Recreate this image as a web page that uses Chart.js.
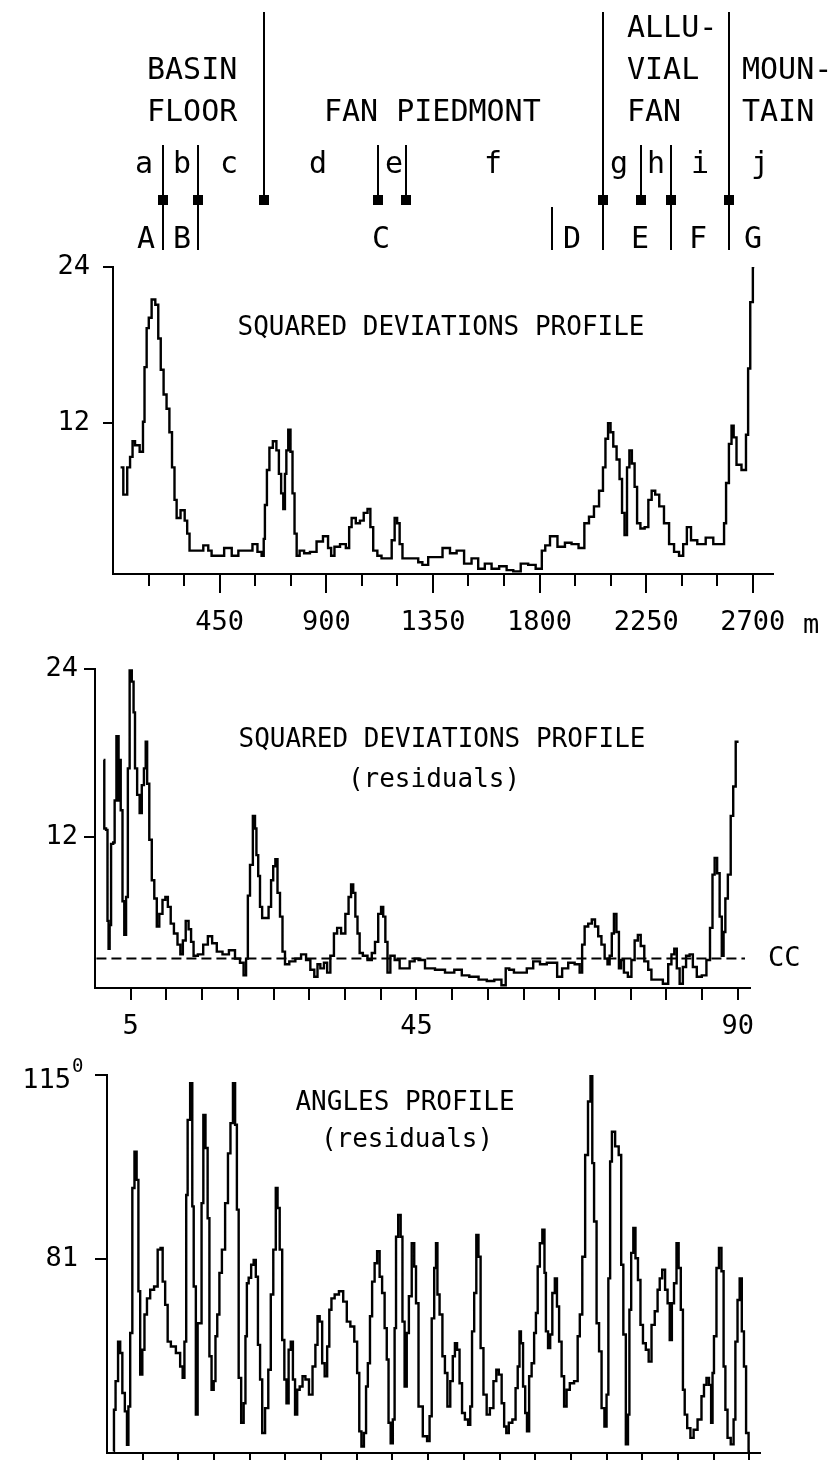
<!DOCTYPE html>
<html>
<head>
<meta charset="utf-8">
<script src="https://cdn.jsdelivr.net/npm/chart.js@4.4.1/dist/chart.umd.min.js"></script>
<style>
  html, body { margin: 0; padding: 0; background: #fff; }
  body { width: 837px; height: 1460px; position: relative; overflow: hidden; }
  canvas { position: absolute; left: 0; }
</style>
</head>
<body>
<canvas id="sqdev" width="837" height="650" style="top:0"></canvas>
<canvas id="sqres" width="837" height="420" style="top:630px"></canvas>
<canvas id="angres" width="837" height="470" style="top:1030px"></canvas>
<script>
const FONT = "'DejaVu Sans Mono', 'Liberation Mono', monospace";

// --- profile 1: squared deviations along the transect (metres) ---
const distM = [32, 55, 65, 79, 86, 100, 125, 128, 138, 146, 156, 170, 187, 195, 208, 219, 233, 243, 255, 264,
  273, 297, 308, 318, 328, 367, 395, 409, 423, 451, 487, 515, 543, 578, 599, 620, 634, 638, 644, 655,
  665, 684, 695, 705, 714, 723, 728, 735, 744, 754, 761, 771, 779, 796, 817, 845, 873, 899, 916, 925,
  944, 972, 993, 1000, 1014, 1035, 1049, 1067, 1081, 1091, 1105, 1126, 1140, 1169, 1183, 1194, 1204, 1215, 1228, 1281,
  1295, 1316, 1344, 1373, 1408, 1436, 1464, 1499, 1527, 1555, 1583, 1612, 1647, 1675, 1703, 1738, 1766, 1801, 1818, 1830,
  1858, 1893, 1921, 1949, 1980, 1998, 2019, 2040, 2062, 2073, 2083, 2095, 2104, 2118, 2132, 2143, 2153, 2164, 2174, 2184,
  2195, 2207, 2216, 2235, 2252, 2266, 2280, 2296, 2314, 2336, 2357, 2378, 2399, 2413, 2430, 2448, 2483, 2519, 2547, 2575,
  2582, 2592, 2606, 2614, 2624, 2638, 2666, 2676, 2684, 2694, 2706];
const sqDev = [8.6, 6.5, 8.6, 9.4, 10.6, 10.3, 9.8, 12.1, 16.3, 19.3, 20.1, 21.5, 21.1, 18.5, 16.1, 14.2, 13.1, 11.3, 8.6, 6.1,
  4.7, 5.3, 4.5, 3.5, 2.2, 2.2, 2.6, 2.2, 1.8, 1.8, 2.4, 1.8, 2.2, 2.2, 2.7, 2.1, 1.8, 3.1, 5.7, 8.4,
  10.1, 10.6, 9.9, 8.1, 6.6, 5.4, 8.1, 9.9, 11.5, 9.8, 6.6, 3.5, 1.8, 2.2, 2.0, 2.1, 2.9, 3.3, 2.4, 1.8,
  2.5, 2.7, 2.4, 4.0, 4.7, 4.3, 4.5, 5.1, 5.4, 4.0, 2.2, 1.8, 1.6, 1.6, 3.0, 4.7, 4.3, 2.7, 1.6, 1.6,
  1.3, 1.1, 1.7, 1.7, 2.4, 2.0, 2.2, 1.2, 1.6, 0.8, 1.2, 0.8, 1.0, 0.7, 0.6, 1.2, 1.1, 0.8, 2.2, 2.6,
  3.3, 2.5, 2.8, 2.7, 2.4, 4.3, 4.8, 5.6, 6.8, 8.6, 10.8, 12.0, 11.3, 10.2, 9.2, 7.7, 5.1, 3.4, 8.6, 9.9,
  8.9, 7.1, 4.3, 3.9, 4.0, 6.1, 6.8, 6.5, 5.6, 4.3, 2.7, 2.1, 1.8, 2.7, 4.0, 3.0, 2.7, 3.2, 2.7, 2.7,
  4.3, 7.4, 10.4, 11.8, 10.9, 8.8, 8.4, 11.1, 16.2, 21.3, 24.0];
const distTicks = [150, 300, 450, 600, 750, 900, 1050, 1200, 1350, 1500, 1650, 1800, 1950, 2100, 2250, 2400, 2550, 2700];
const distLabels = [450, 900, 1350, 1800, 2250, 2700];
const devTicks = [12, 24];

// --- profile 2: squared deviations of the residuals, by segment ---
const segRes = [1.2, 1.4, 1.7, 1.8, 2.0, 2.1, 2.4, 2.7, 2.8, 3.2, 3.4, 3.5, 3.7, 4.0, 4.2, 4.5, 4.7, 5.0, 5.3, 5.5,
  5.7, 6.1, 6.4, 6.7, 7.0, 7.2, 7.4, 7.8, 8.1, 8.5, 8.8, 9.2, 9.7, 10.0, 10.4, 10.8, 11.3, 11.8, 12.1, 12.5,
  12.9, 13.3, 13.6, 14.0, 14.8, 15.5, 16.1, 16.7, 17.4, 18.3, 19.2, 20.0, 20.6, 21.0, 21.3, 21.5, 21.9, 22.3, 22.5, 22.7,
  23.0, 23.2, 23.6, 24.1, 24.5, 24.8, 25.1, 25.4, 25.7, 26.1, 26.4, 26.8, 27.6, 28.5, 29.2, 29.9, 30.4, 31.0, 31.3, 31.8,
  32.3, 32.7, 33.2, 33.7, 34.1, 34.8, 35.3, 35.7, 36.0, 36.3, 36.6, 36.9, 37.2, 37.8, 38.5, 39.0, 39.4, 39.9, 40.2, 40.5,
  40.8, 41.1, 41.6, 42.3, 43.0, 43.7, 44.4, 45.1, 45.5, 46.9, 48.3, 49.7, 50.9, 51.8, 53.0, 54.4, 55.3, 56.5, 57.3, 57.7,
  58.3, 59.0, 60.0, 60.9, 61.8, 62.8, 63.7, 64.4, 65.0, 65.8, 66.7, 67.6, 68.1, 68.3, 68.8, 69.3, 69.8, 70.2, 70.7, 71.1,
  71.6, 71.9, 72.2, 72.5, 72.8, 73.2, 73.5, 73.8, 74.3, 74.9, 75.3, 75.8, 76.2, 76.6, 77.2, 77.7, 78.1, 79.0, 80.0, 80.5,
  80.9, 81.3, 81.6, 82.1, 82.5, 83.0, 83.5, 83.9, 84.6, 85.3, 85.9, 86.3, 86.6, 86.9, 87.3, 87.6, 87.9, 88.1, 88.4, 88.8,
  89.2, 89.5, 89.9, 90.1];
const sqDevRes = [17.5, 12.6, 12.5, 6.0, 4.0, 5.7, 11.5, 11.6, 14.6, 19.2, 14.6, 17.5, 13.9, 7.4, 5.0, 7.7, 16.9, 23.9, 23.1, 20.9,
  16.9, 15.0, 13.7, 15.7, 16.9, 18.8, 15.8, 11.8, 8.9, 7.6, 5.6, 6.5, 7.5, 7.7, 7.0, 5.8, 5.1, 4.3, 3.6, 4.6,
  6.0, 5.4, 4.5, 3.5, 3.6, 4.3, 4.9, 4.4, 3.8, 3.6, 3.9, 3.3, 3.0, 2.1, 3.3, 7.8, 10.0, 13.5, 12.6, 10.7,
  9.2, 7.0, 6.2, 6.2, 7.0, 8.9, 9.9, 10.4, 8.0, 6.3, 3.8, 2.9, 3.1, 3.3, 3.6, 3.2, 2.5, 2.0, 2.9, 2.6,
  3.0, 2.3, 3.5, 5.1, 5.5, 5.1, 6.5, 7.7, 8.6, 8.0, 6.3, 5.1, 3.7, 3.5, 3.2, 3.7, 4.5, 6.5, 7.0, 6.3,
  4.5, 2.3, 3.5, 3.2, 2.6, 2.6, 3.1, 3.3, 3.2, 2.6, 2.5, 2.3, 2.5, 2.1, 2.0, 1.8, 1.7, 1.8, 1.4, 2.6,
  2.5, 2.3, 2.3, 2.6, 3.1, 2.9, 3.0, 3.0, 2.0, 2.6, 3.0, 2.9, 2.3, 4.3, 5.6, 5.8, 6.1, 5.6, 4.9, 4.3,
  3.3, 2.9, 3.5, 5.1, 6.5, 5.2, 2.6, 3.2, 2.3, 2.0, 3.2, 4.6, 5.0, 4.2, 3.1, 2.5, 1.8, 1.8, 1.5, 2.9,
  3.6, 4.0, 2.6, 1.5, 2.7, 3.5, 3.6, 2.7, 2.0, 2.1, 3.2, 5.5, 9.3, 10.5, 9.4, 6.3, 3.5, 5.2, 7.6, 9.3,
  13.5, 15.6, 18.8, 18.8];
const segTicks = [5, 10, 15, 20, 25, 30, 35, 40, 45, 50, 55, 60, 65, 70, 75, 80, 85, 90];
const segLabels = [5, 45, 90];
const ccLevel = 3.3;
const ccSpan = [0.2, 91];

// --- profile 3: angles of the residuals, by segment ---
const segAng = [0.95, 1.0, 1.4, 1.7, 2.0, 2.3, 2.7, 2.9, 3.1, 3.4, 3.7, 4.0, 4.3, 4.5, 4.8, 5.1, 5.4, 5.8, 6.3, 6.9,
  7.3, 7.7, 7.9, 8.4, 8.6, 9.3, 10.0, 10.5, 10.7, 11.0, 11.2, 11.4, 11.9, 12.0, 12.3, 12.6, 12.8, 13.1, 13.4, 13.6,
  14.0, 14.2, 14.5, 14.8, 15.1, 15.3, 15.6, 15.9, 16.3, 16.8, 17.1, 17.5, 17.8, 18.1, 18.3, 18.6, 19.0, 19.3, 19.5, 19.7,
  20.0, 20.4, 20.7, 21.0, 21.3, 21.6, 21.9, 22.4, 22.8, 23.1, 23.5, 23.8, 24.0, 24.4, 24.7, 25.0, 25.3, 25.6, 25.9, 26.2,
  26.5, 26.8, 27.2, 27.6, 28.0, 28.6, 29.0, 29.4, 29.6, 30.0, 30.3, 30.7, 31.0, 31.3, 31.6, 32.2, 32.8, 33.4, 33.8, 34.4,
  34.9, 35.2, 35.5, 35.8, 36.2, 36.4, 36.7, 37.0, 37.3, 37.7, 38.0, 38.4, 38.7, 39.1, 39.3, 39.6, 39.9, 40.2, 40.4, 40.6,
  41.0, 41.3, 41.5, 41.9, 42.1, 42.5, 42.9, 43.2, 43.4, 43.9, 44.6, 45.1, 45.3, 45.7, 46.0, 46.2, 46.4, 46.8, 47.2, 47.5,
  47.9, 48.3, 48.6, 48.9, 49.2, 49.6, 49.9, 50.4, 50.8, 51.0, 51.3, 51.6, 51.9, 52.2, 52.5, 53.0, 53.4, 53.9, 54.4, 54.7,
  55.1, 55.5, 55.8, 56.1, 56.5, 57.1, 57.4, 57.7, 57.9, 58.1, 58.5, 58.7, 59.0, 59.3, 59.7, 60.0, 60.2, 60.5, 60.8, 61.2,
  61.4, 61.6, 62.0, 62.2, 62.6, 62.9, 63.2, 63.5, 63.9, 64.2, 64.6, 65.1, 65.8, 66.1, 66.4, 66.8, 67.2, 67.6, 67.9, 68.1,
  68.4, 68.8, 69.1, 69.5, 69.9, 70.1, 70.4, 70.6, 70.9, 71.5, 71.9, 72.2, 72.5, 72.9, 73.1, 73.3, 73.6, 73.9, 74.2, 74.6,
  74.9, 75.3, 75.7, 76.1, 76.5, 77.0, 77.3, 77.6, 78.0, 78.4, 78.7, 79.0, 79.3, 79.6, 80.0, 80.2, 80.6, 80.8, 81.1, 81.5,
  82.0, 82.4, 83.1, 83.5, 83.8, 84.2, 84.5, 84.8, 84.9, 85.2, 85.6, 85.9, 86.3, 86.5, 86.8, 87.1, 87.7, 87.9, 88.2, 88.5,
  88.8, 89.1, 89.4, 89.7, 90.1];
const angRes = [45.4, 53.1, 58.4, 65.7, 63.6, 56.2, 52.8, 46.6, 53.7, 67.3, 94.1, 100.8, 95.6, 75.0, 59.6, 64.2, 70.7, 73.7, 75.3, 75.9,
  82.7, 83.0, 76.8, 72.5, 65.7, 64.8, 63.6, 61.1, 59.0, 65.7, 92.8, 106.7, 113.5, 90.7, 75.9, 52.2, 69.1, 69.1, 91.3, 107.6,
  101.5, 88.5, 63.0, 56.8, 58.4, 66.7, 70.7, 78.4, 82.7, 91.3, 100.5, 106.1, 113.5, 105.8, 90.1, 59.0, 50.7, 54.3, 66.7, 76.5,
  77.5, 79.9, 80.8, 77.7, 65.1, 58.7, 48.8, 53.4, 60.5, 74.4, 82.7, 94.1, 90.4, 82.7, 66.0, 58.7, 54.3, 64.2, 65.7, 58.7,
  52.2, 56.8, 57.4, 59.3, 58.7, 55.9, 61.1, 65.1, 70.4, 69.4, 61.7, 59.3, 64.8, 71.6, 73.7, 74.4, 75.0, 73.1, 69.4, 68.5,
  65.7, 59.9, 49.1, 46.3, 48.8, 57.4, 61.7, 70.4, 76.8, 80.2, 82.4, 77.7, 74.7, 68.2, 62.4, 50.7, 46.9, 51.3, 68.2, 85.1,
  89.1, 85.1, 69.4, 57.4, 67.3, 74.1, 83.9, 79.6, 72.8, 53.7, 48.2, 47.3, 51.9, 70.0, 79.3, 83.9, 74.4, 70.7, 63.0, 59.9,
  53.7, 58.4, 63.0, 65.4, 64.2, 58.0, 52.5, 51.3, 50.3, 53.7, 67.6, 74.7, 85.4, 81.4, 64.5, 55.9, 52.2, 53.4, 58.4, 60.5,
  59.6, 54.3, 50.0, 48.8, 50.7, 51.3, 57.1, 61.1, 67.6, 65.4, 57.4, 52.5, 49.1, 59.3, 61.7, 67.3, 71.0, 79.6, 83.9, 86.4,
  78.4, 67.6, 64.5, 67.0, 74.7, 77.4, 72.2, 65.7, 59.3, 53.7, 56.8, 58.0, 58.4, 66.7, 70.7, 81.4, 100.2, 110.1, 115.0, 98.7,
  87.9, 69.1, 63.9, 53.4, 50.0, 55.9, 77.4, 99.0, 104.5, 101.8, 100.2, 79.9, 67.0, 46.7, 52.2, 71.6, 82.1, 86.7, 81.1, 77.1,
  68.8, 65.4, 64.2, 62.0, 68.8, 71.3, 75.3, 77.4, 79.0, 75.3, 72.8, 66.0, 72.8, 76.5, 83.9, 79.3, 71.6, 56.8, 52.2, 49.7,
  47.9, 49.4, 51.3, 55.6, 57.7, 59.0, 57.7, 50.7, 59.9, 66.7, 79.3, 83.0, 78.7, 61.1, 53.1, 47.9, 46.7, 51.3, 65.7, 73.4,
  77.4, 67.6, 61.1, 48.8, 45.4];
const angTicks = [81, 115];

// --- header: geomorphic zones, units a-j and sample sites A-G (metres along profile 1) ---
const unitBounds = [211, 359, 637, 1118, 1236, 2067, 2228, 2354, 2599];
const zoneBounds = [637, 2067, 2599];
const siteBounds = [211, 359, 1852, 2067, 2354, 2599];
const unitNames = ['a', 'b', 'c', 'd', 'e', 'f', 'g', 'h', 'i', 'j'];
const unitPos = [131, 291, 489, 865, 1185, 1603, 2135, 2291, 2476, 2730];
const siteNames = ['A', 'B', 'C', 'D', 'E', 'F', 'G'];
const sitePos = [139, 291, 1131, 1936, 2223, 2468, 2700];
const zoneNames = [['BASIN', 'FLOOR'], ['FAN PIEDMONT'], ['ALLU-', 'VIAL', 'FAN'], ['MOUN-', 'TAIN']];
const zonePos = [143, 890, 2168, 2654];

const pts = (xs, ys) => xs.map((x, i) => ({ x, y: ys[i] }));

// tick marks drawn by hand so the labelled ones can be longer
const tickMarks = {
  id: 'tickMarks',
  afterDraw(chart, args, o) {
    const { ctx, chartArea, scales: { x, y } } = chart;
    ctx.save();
    ctx.strokeStyle = '#000';
    ctx.lineWidth = 2;
    ctx.beginPath();
    x.ticks.forEach(t => {
      const px = Math.round(x.getPixelForValue(t.value));
      const len = (o.xLong || []).includes(t.value) ? o.xLongLen : o.xLen;
      ctx.moveTo(px, chartArea.bottom);
      ctx.lineTo(px, chartArea.bottom + len);
    });
    y.ticks.forEach(t => {
      const py = Math.round(y.getPixelForValue(t.value));
      ctx.moveTo(chartArea.left, py);
      ctx.lineTo(chartArea.left - o.yLen, py);
    });
    ctx.stroke();
    ctx.restore();
  }
};

const panelText = {
  id: 'panelText',
  afterDraw(chart, args, o) {
    const { ctx } = chart;
    ctx.save();
    ctx.fillStyle = '#000';
    ctx.textBaseline = 'alphabetic';
    (o.items || []).forEach(it => {
      ctx.font = `${it.size}px ${FONT}`;
      ctx.textAlign = it.align || 'center';
      ctx.fillText(it.t, it.x, it.y);
    });
    ctx.restore();
  }
};

const header = {
  id: 'header',
  afterDraw(chart) {
    const { ctx, scales: { x } } = chart;
    const px = m => Math.round(x.getPixelForValue(m));
    ctx.save();
    ctx.strokeStyle = '#000';
    ctx.fillStyle = '#000';
    ctx.lineWidth = 2;
    ctx.beginPath();
    unitBounds.forEach(m => {
      ctx.moveTo(px(m), zoneBounds.includes(m) ? 12 : 145);
      ctx.lineTo(px(m), 200);
    });
    siteBounds.forEach(m => {
      ctx.moveTo(px(m), unitBounds.includes(m) ? 200 : 207);
      ctx.lineTo(px(m), 250);
    });
    ctx.stroke();
    unitBounds.forEach(m => ctx.fillRect(px(m) - 5, 195, 10, 10));

    ctx.font = `30px ${FONT}`;
    ctx.textBaseline = 'alphabetic';
    ctx.textAlign = 'center';
    unitNames.forEach((t, i) => ctx.fillText(t, px(unitPos[i]), 173));
    siteNames.forEach((t, i) => ctx.fillText(t, px(sitePos[i]), 248));
    ctx.textAlign = 'left';
    zoneNames.forEach((lines, i) => {
      lines.forEach((t, j) => ctx.fillText(t, px(zonePos[i]), 121 - (lines.length - 1 - j) * 42));
    });
    ctx.restore();
  }
};

const ccLabel = {
  id: 'ccLabel',
  afterDraw(chart) {
    const { ctx, scales: { x, y } } = chart;
    ctx.save();
    ctx.fillStyle = '#000';
    ctx.font = `27px ${FONT}`;
    ctx.textBaseline = 'middle';
    ctx.fillText('CC', x.getPixelForValue(ccSpan[1]) + 23, y.getPixelForValue(ccLevel));
    ctx.restore();
  }
};

// "115" with a raised degree-style zero, as on the original axis
const degreeLabel = {
  id: 'degreeLabel',
  afterDraw(chart) {
    const { ctx, scales: { y } } = chart;
    const py = y.getPixelForValue(angTicks[1]);
    ctx.save();
    ctx.fillStyle = '#000';
    ctx.textBaseline = 'alphabetic';
    ctx.textAlign = 'right';
    ctx.font = `27px ${FONT}`;
    ctx.fillText(String(angTicks[1]), 71, py + 13);
    ctx.textAlign = 'left';
    ctx.font = `19px ${FONT}`;
    ctx.fillText('0', 72, py - 3);
    ctx.restore();
  }
};

function profileChart(id, o) {
  return new Chart(document.getElementById(id), {
    type: 'line',
    data: { datasets: o.datasets },
    options: {
      responsive: false,
      animation: false,
      devicePixelRatio: 1,
      layout: { padding: { top: o.top, right: o.right, left: 0, bottom: 0 } },
      elements: {
        point: { radius: 0 },
        line: { borderColor: '#000', borderWidth: 2.4, tension: 0, fill: false }
      },
      plugins: {
        legend: { display: false },
        tooltip: { enabled: false },
        tickMarks: o.marks,
        panelText: { items: o.texts }
      },
      scales: {
        x: {
          type: 'linear',
          min: o.xMin,
          max: o.xMax,
          afterBuildTicks: s => { s.ticks = o.xTicks.map(v => ({ value: v })); },
          afterFit: s => { s.height = o.xHeight; },
          grid: { display: false, drawTicks: false },
          border: { display: true, color: '#000', width: 2 },
          ticks: {
            display: !!o.xLabels,
            autoSkip: false,
            maxRotation: 0,
            padding: o.xPad || 0,
            color: '#000',
            font: { family: FONT, size: 27, lineHeight: 1 },
            callback: v => (o.xLabels || []).includes(v) ? String(v) : ''
          }
        },
        y: {
          min: o.yMin,
          max: o.yMax,
          afterBuildTicks: s => { s.ticks = o.yTicks.map(v => ({ value: v })); },
          afterFit: s => { s.width = o.yWidth; },
          grid: { display: false, drawTicks: false },
          border: { display: true, color: '#000', width: 2 },
          ticks: {
            padding: o.yPad,
            color: '#000',
            font: { family: FONT, size: 27, lineHeight: 1 },
            callback: o.yFormat || (v => String(v))
          }
        }
      }
    },
    plugins: [tickMarks, panelText].concat(o.extra || [])
  });
}

profileChart('sqdev', {
  datasets: [{ data: pts(distM, sqDev), stepped: 'middle' }],
  top: 267, right: 64, yWidth: 113, xHeight: 76,
  xMin: 0, xMax: 2785, xTicks: distTicks, xLabels: distLabels, xPad: 35,
  yMin: 0.4, yMax: 24, yTicks: devTicks, yPad: 23,
  marks: { xLen: 12, xLongLen: 19, xLong: distLabels, yLen: 10 },
  texts: [
    { t: 'SQUARED DEVIATIONS PROFILE', x: 441, y: 335, size: 26 },
    { t: 'm', x: 803, y: 633, size: 27, align: 'left' }
  ],
  extra: [header]
});

// canvas starts at y=630
profileChart('sqres', {
  datasets: [
    { data: pts(segRes, sqDevRes), stepped: 'middle' },
    { data: pts(ccSpan, [ccLevel, ccLevel]), borderDash: [10, 5], borderWidth: 2 }
  ],
  top: 39, right: 87, yWidth: 95, xHeight: 62,
  xMin: 0, xMax: 91.7, xTicks: segTicks, xLabels: segLabels, xPad: 25,
  yMin: 1.2, yMax: 24, yTicks: devTicks, yPad: 17,
  marks: { xLen: 12, yLen: 11 },
  texts: [
    { t: 'SQUARED DEVIATIONS PROFILE', x: 442, y: 117, size: 26 },
    { t: '(residuals)', x: 434, y: 157, size: 26 }
  ],
  extra: [ccLabel]
});

// canvas starts at y=1030
profileChart('angres', {
  datasets: [{ data: pts(segAng, angRes), stepped: 'middle' }],
  top: 45, right: 77, yWidth: 107, xHeight: 47,
  xMin: 0, xMax: 91.5, xTicks: segTicks, xLabels: null,
  yMin: 45.1, yMax: 115, yTicks: angTicks, yPad: 29,
  yFormat: v => v === angTicks[1] ? '' : String(v),
  marks: { xLen: 12, yLen: 12 },
  texts: [
    { t: 'ANGLES PROFILE', x: 405, y: 80, size: 26 },
    { t: '(residuals)', x: 407, y: 117, size: 26 }
  ],
  extra: [degreeLabel]
});
</script>
</body>
</html>
